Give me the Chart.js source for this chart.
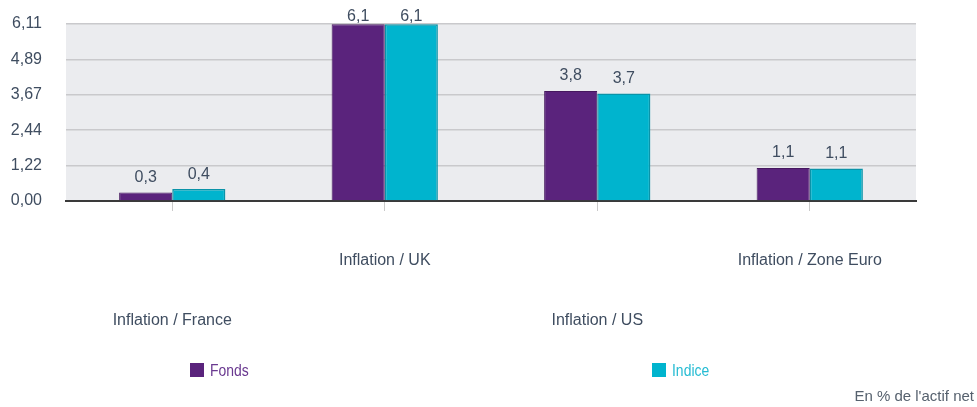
<!DOCTYPE html>
<html>
<head>
<meta charset="utf-8">
<script src="https://cdn.jsdelivr.net/npm/chart.js@4.4.1/dist/chart.umd.min.js"></script>
<style>
    body { margin: 0; background: #fff; }
    #wrap { position: relative; width: 977px; height: 407px; }
    .leg { position: absolute; font-family: 'Liberation Sans', Arial, sans-serif; font-size: 17px; line-height: 18px; white-space: nowrap; }
    .leg span { display: inline-block; width: 14px; height: 14px; vertical-align: -1px; margin-right: 6px; }
    .leg b { display: inline-block; font-weight: normal; transform: scaleX(0.82); transform-origin: left center; }
</style>
</head>
<body>
<div id="wrap">
    <canvas id="chart1" width="977" height="407"></canvas>
    <div id="legend1"></div>
</div>
<script>
const categories = ['Inflation / France', 'Inflation / UK', 'Inflation / US', 'Inflation / Zone Euro'];
const fondsValues = [0.29, 6.1, 3.8, 1.14];
const indiceValues = [0.41, 6.1, 3.71, 1.12];
const yTickValues = [0, 1.222, 2.444, 3.666, 4.888, 6.11];
const yTickLabels = ['0,00', '1,22', '2,44', '3,67', '4,89', '6,11'];

const textColor = '#3f4d60';

const plotBackground = {
    id: 'plotBackground',
    beforeDraw(chart) {
        const a = chart.chartArea;
        const ctx = chart.ctx;
        ctx.save();
        ctx.fillStyle = '#ebecef';
        ctx.fillRect(a.left, a.top, a.right - a.left, a.bottom - a.top);
        ctx.restore();
    }
};

const valueLabels = {
    id: 'valueLabels',
    afterDatasetsDraw(chart) {
        const ctx = chart.ctx;
        ctx.save();
        ctx.font = '16px "Liberation Sans", Arial, sans-serif';
        ctx.fillStyle = textColor;
        ctx.textAlign = 'center';
        ctx.textBaseline = 'middle';
        chart.data.datasets.forEach((ds, i) => {
            chart.getDatasetMeta(i).data.forEach((bar, j) => {
                const txt = ds.data[j].toFixed(1).replace('.', ',');
                ctx.fillText(txt, bar.x, Math.max(bar.y - 15, 17));
            });
        });
        ctx.restore();
    }
};

const ctx1 = document.getElementById('chart1').getContext('2d');

const chart1 = new Chart(ctx1, {
    type: 'bar',
    data: {
        labels: categories,
        datasets: [{
            label: 'Fonds',
            data: fondsValues,
            backgroundColor: '#5a237c',
            borderColor: '#46185f',
            borderWidth: 1,
            categoryPercentage: 0.5,
            barPercentage: 1
        }, {
            label: 'Indice',
            data: indiceValues,
            backgroundColor: '#00b4ce',
            borderColor: '#0a93a8',
            borderWidth: 1.5,
            categoryPercentage: 0.5,
            barPercentage: 1
        }]
    },
    options: {
        responsive: false,
        animation: false,
        layout: { padding: { top: 24, left: 0, right: 3, bottom: 0 } },
        plugins: {
            legend: { display: false },
            tooltip: { enabled: false },
            subtitle: {
                display: true,
                position: 'bottom',
                align: 'end',
                text: "En % de l'actif net",
                color: '#56616e',
                font: { size: 15, family: '"Liberation Sans", Arial, sans-serif' },
                padding: { top: 17, bottom: 1 }
            }
        },
        scales: {
            x: {
                grid: {
                    offset: false,
                    drawOnChartArea: false,
                    drawTicks: true,
                    tickLength: 10,
                    color: '#cacaca'
                },
                border: { display: true, color: '#3a3a3a', width: 2 },
                ticks: {
                    color: textColor,
                    padding: 20,
                    maxRotation: 0,
                    autoSkip: false,
                    font: { size: 16, family: '"Liberation Sans", Arial, sans-serif', lineHeight: '60px' },
                    callback: function (value, index) {
                        const name = categories[index];
                        return index % 2 === 0 ? ['', name] : [name];
                    }
                }
            },
            y: {
                min: 0,
                max: 6.11,
                afterBuildTicks: function (scale) {
                    scale.ticks = yTickValues.map(v => ({ value: v }));
                },
                afterFit: function (scale) {
                    scale.width = 66;
                    scale.paddingTop = 0;
                    scale.paddingBottom = 0;
                },
                grid: { color: '#c9c9cc', lineWidth: 1.5, drawTicks: false },
                border: { display: false },
                ticks: {
                    color: textColor,
                    padding: 24,
                    font: { size: 16, family: '"Liberation Sans", Arial, sans-serif' },
                    callback: function (value, index) {
                        return yTickLabels[index];
                    }
                }
            },
            yRight: {
                axis: 'y',
                position: 'right',
                display: true,
                grid: { display: false, drawTicks: false },
                border: { display: false },
                ticks: { display: false },
                afterFit: function (scale) {
                    scale.width = 58;
                }
            }
        }
    },
    plugins: [plotBackground, valueLabels]
});

// legende html, placee comme sur l'original
const legendPos = [{ left: 190, text: '#6a3990' }, { left: 652, text: '#26bcd3' }];
const legend1 = document.getElementById('legend1');
chart1.data.datasets.forEach((ds, i) => {
    const item = document.createElement('div');
    item.className = 'leg';
    item.style.left = legendPos[i].left + 'px';
    item.style.top = '362px';
    item.style.color = legendPos[i].text;
    item.innerHTML = '<span style="background:' + ds.backgroundColor + '"></span><b>' + ds.label + '</b>';
    legend1.appendChild(item);
});
</script>
</body>
</html>
